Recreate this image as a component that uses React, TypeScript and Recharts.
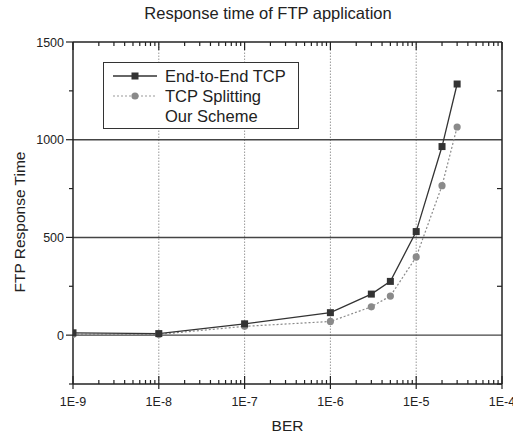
import React from 'react';
import {
  ComposedChart, Line, XAxis, YAxis, ReferenceLine, Legend,
} from 'recharts';

// BER values on the x axis (log scale)
const berValues = [1e-9, 1e-8, 1e-7, 1e-6, 3e-6, 5e-6, 1e-5, 2e-5, 3e-5];
// FTP response time
const endToEndTcp = [12, 8, 58, 115, 210, 275, 530, 965, 1285];
const tcpSplitting = [4, 4, 45, 70, 145, 200, 400, 765, 1065];

const seriesNames = ['End-to-End TCP', 'TCP Splitting', 'Our Scheme'];

const xMajorTicks = [1e-9, 1e-8, 1e-7, 1e-6, 1e-5, 1e-4];
const xMinorTicks = [-9, -8, -7, -6, -5].flatMap(k =>
  [2, 3, 4, 5, 6, 7, 8, 9].map(m => m * Math.pow(10, k))
);
const xAllTicks = [...xMajorTicks, ...xMinorTicks].sort((a, b) => a - b);
const xGridLines = [1e-8, 1e-7, 1e-6, 1e-5];

const yMajorTicks = [0, 500, 1000, 1500];
const yAllTicks = [-250, 0, 250, 500, 750, 1000, 1250, 1500];
const yGridLines = [0, 500, 1000];

const data = berValues.map((ber, i) => ({
  ber,
  e2e: endToEndTcp[i],
  split: tcpSplitting[i],
}));

const FONT = '"Liberation Sans", Arial, sans-serif';
const INK = '#222';

const isMajorX = (v: number) => {
  const l = Math.log10(v);
  return Math.abs(l - Math.round(l)) < 1e-6;
};
const fmtBer = (v: number) => `1E${Math.round(Math.log10(v))}`;

const BottomTick = (props: any) => {
  const { x, y, payload } = props;
  const axisY = y - 8;
  const major = isMajorX(payload.value);
  return (
    <g>
      <line x1={x} x2={x} y1={axisY - (major ? 8 : 4)} y2={axisY + (major ? 5 : 0)} stroke={INK} strokeWidth={1.2} />
      {major && (
        <text x={x} y={axisY + 22} textAnchor="middle" fontSize={12.5} fill={INK} fontFamily={FONT}>
          {fmtBer(payload.value)}
        </text>
      )}
    </g>
  );
};

const TopTick = (props: any) => {
  const { x, y, payload } = props;
  const axisY = y + 8;
  const major = isMajorX(payload.value);
  return <line x1={x} x2={x} y1={axisY} y2={axisY + (major ? 8 : 4)} stroke={INK} strokeWidth={1.2} />;
};

const LeftTick = (props: any) => {
  const { x, y, payload } = props;
  const axisX = x + 8;
  const major = yMajorTicks.includes(payload.value);
  return (
    <g>
      <line x1={axisX - (major ? 7 : 4)} x2={axisX} y1={y} y2={y} stroke={INK} strokeWidth={1.2} />
      {major && (
        <text x={axisX - 9} y={y + 4.5} textAnchor="end" fontSize={12.5} fill={INK} fontFamily={FONT}>
          {payload.value}
        </text>
      )}
    </g>
  );
};

const RightTick = (props: any) => {
  const { x, y, payload } = props;
  const axisX = x - 8;
  const major = yMajorTicks.includes(payload.value);
  if (major) return <g />;
  return <line x1={axisX - 5} x2={axisX} y1={y} y2={y} stroke={INK} strokeWidth={1.2} />;
};

const SquareDot = (props: any) => {
  const { cx, cy } = props;
  if (cx == null || cy == null) return null;
  return <rect x={cx - 3.5} y={cy - 3.5} width={7} height={7} fill="#333" />;
};

const CircleDot = (props: any) => {
  const { cx, cy } = props;
  if (cx == null || cy == null) return null;
  return <circle cx={cx} cy={cy} r={3.6} fill="#8a8a8a" />;
};

const LegendBox = () => (
  <div
    style={{
      border: '1.3px solid #333',
      background: '#fff',
      width: 196,
      height: 67,
      boxSizing: 'border-box',
      fontFamily: FONT,
      fontSize: 16.5,
      color: INK,
      paddingTop: 3,
    }}
  >
    {seriesNames.map((name, i) => (
      <div key={name} style={{ display: 'flex', alignItems: 'center', height: 20 }}>
        <svg width={60} height={20}>
          {i === 0 && (
            <>
              <line x1={9} x2={53} y1={10} y2={10} stroke="#333" strokeWidth={1.3} />
              <rect x={27.5} y={6.5} width={7} height={7} fill="#333" />
            </>
          )}
          {i === 1 && (
            <>
              <line x1={9} x2={53} y1={10} y2={10} stroke="#999" strokeWidth={1.2} strokeDasharray="2 2" />
              <circle cx={31} cy={10} r={3.6} fill="#8a8a8a" />
            </>
          )}
        </svg>
        <span style={{ marginLeft: 1 }}>{name}</span>
      </div>
    ))}
  </div>
);

export default function App() {
  return (
    <div style={{ position: 'absolute', left: 0, top: 0, width: 513, height: 437, background: '#fff' }}>
      <div
        style={{
          position: 'absolute', left: 0, top: 4, width: 536, textAlign: 'center',
          fontFamily: FONT, fontSize: 16.5, color: INK,
        }}
      >
        Response time of FTP application
      </div>
      <ComposedChart width={513} height={437} data={data} margin={{ top: 0, right: 0, bottom: 0, left: 0 }}>
        <XAxis
          dataKey="ber" type="number" scale="log" domain={[1e-9, 1e-4]} allowDataOverflow
          ticks={xAllTicks} interval={0} tickSize={6} tickMargin={2} tick={<BottomTick />}
          tickLine={false} axisLine={{ stroke: INK, strokeWidth: 1.5 }} height={53}
          label={{ value: 'BER', position: 'insideBottom', offset: 6, style: { fontFamily: FONT, fontSize: 15.5, fill: INK } }}
        />
        <XAxis
          xAxisId="top" orientation="top" dataKey="ber" type="number" scale="log" domain={[1e-9, 1e-4]}
          allowDataOverflow ticks={xAllTicks} interval={0} tickSize={6} tickMargin={2} tick={<TopTick />}
          tickLine={false} axisLine={{ stroke: INK, strokeWidth: 1.5 }} height={42}
        />
        <YAxis
          type="number" domain={[-250, 1500]} allowDataOverflow ticks={yAllTicks} interval={0}
          tickSize={6} tickMargin={2} tick={<LeftTick />} tickLine={false}
          axisLine={{ stroke: INK, strokeWidth: 1.5 }} width={73}
          label={{
            content: (p: any) => {
              const vb = p.viewBox;
              const cx = vb.x + 21;
              const cy = vb.y + vb.height / 2 + 9;
              return (
                <text x={cx} y={cy} transform={`rotate(-90 ${cx} ${cy})`} textAnchor="middle"
                  dominantBaseline="middle" fontFamily={FONT} fontSize={15.5} fill={INK}>
                  FTP Response Time
                </text>
              );
            },
          }}
        />
        <YAxis
          yAxisId="right" orientation="right" type="number" domain={[-250, 1500]} allowDataOverflow
          ticks={yAllTicks} interval={0} tickSize={6} tickMargin={2} tick={<RightTick />} tickLine={false}
          axisLine={{ stroke: INK, strokeWidth: 1.5 }} width={11}
        />
        {xGridLines.map(v => (
          <ReferenceLine key={`gx${v}`} x={v} stroke="#999" strokeWidth={1} strokeDasharray="1.5 1.5" />
        ))}
        {yGridLines.map(v => (
          <ReferenceLine key={`gy${v}`} y={v} stroke="#444" strokeWidth={1.4} />
        ))}
        <Legend
          layout="vertical" align="center" verticalAlign="middle"
          wrapperStyle={{ left: 103, top: 62, width: 196, height: 67 }}
          content={<LegendBox />}
        />
        <Line
          dataKey="split" name={seriesNames[1]} stroke="#8a8a8a" strokeWidth={1.2} strokeDasharray="2 2"
          dot={<CircleDot />} activeDot={false} isAnimationActive={false}
        />
        <Line
          dataKey="e2e" name={seriesNames[0]} stroke="#333" strokeWidth={1.3}
          dot={<SquareDot />} activeDot={false} isAnimationActive={false}
        />
      </ComposedChart>
    </div>
  );
}
